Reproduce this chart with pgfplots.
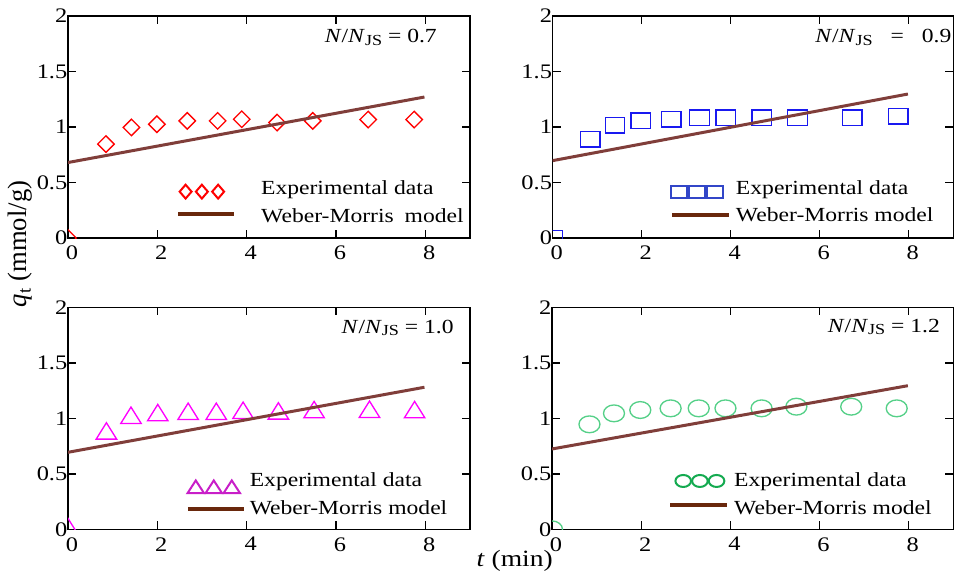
\documentclass[border=0pt]{standalone}
\usepackage{fontspec}
\setmainfont{Liberation Serif}[FakeStretch=1.18]
\newfontfamily\plainserif{Liberation Serif}
\usepackage{pgfplots}
\pgfplotsset{compat=1.18}

\definecolor{wmline}{RGB}{128,62,58}
\definecolor{wmleg}{RGB}{105,40,12}
\definecolor{plotred}{RGB}{255,0,0}
\definecolor{plotblue}{RGB}{25,25,240}
\definecolor{legblue}{RGB}{50,70,200}
\definecolor{plotmag}{RGB}{255,0,255}
\definecolor{legmag}{RGB}{200,30,200}
\definecolor{plotgreen}{RGB}{85,208,136}
\definecolor{leggreen}{RGB}{20,170,80}

\pgfplotsset{
  panel/.style={
    scale only axis,
    height=166.5pt,
    xmin=0, xmax=9, ymin=0, ymax=2,
    xtick={0,2,4,6,8}, ytick={0,0.5,1,1.5,2},
    tick align=inside,
    major tick length=6pt,
    axis line style={line width=1pt},
    every tick/.style={black, line width=1pt},
    clip marker paths=true,
    /pgf/number format/assume math mode=true,
    tick label style={font=\fontsize{15.5}{18}\selectfont},
    xticklabel style={xshift=3pt, yshift=-2.5pt},
    yticklabel style={xshift=3pt},
    legend cell align=left,
    legend style={draw=none, fill=none, inner sep=0pt, outer sep=0pt, anchor=north west,
      nodes={inner sep=0pt},
      font=\fontsize{15}{18}\selectfont},
  },
  wm/.style={no marks, color=wmline, line width=2.25pt, forget plot},
  legline/.style n args={2}{legend image code/.code={\draw[##1] (0pt,#2) -- (#1,#2);}},
  legmarks/.style n args={4}{legend image code/.code={\draw[##1] plot coordinates {(#1,#4) (#2,#4) (#3,#4)};}},
}

\newcommand{\NNJS}{\textit{N}/\textit{N}\raisebox{-0.3ex}{\fontsize{11.5}{12}\selectfont JS}}

\begin{document}
\begin{tikzpicture}
\useasboundingbox (0pt,0pt) rectangle (715.5pt,-430.5pt);

% ---------------- top left ----------------
\begin{axis}[panel, at={(51pt,-178.5pt)}, anchor=south west, width=301.5pt,
  legend style={at={(0.269,0.2596)}, row sep=7.4pt,
    /tikz/every odd column/.append style={column sep=18.75pt}}]
\addplot[only marks, mark=diamond, color=plotred, mark size=6.2pt,
  mark options={xscale=1.333, line width=1pt}, forget plot] coordinates {
  (0,0) (0.85,0.846) (1.42,0.996) (1.99,1.025) (2.67,1.055) (3.35,1.055)
  (3.89,1.07) (4.68,1.04) (5.48,1.055) (6.72,1.067) (7.75,1.067)};
\addplot[wm] coordinates {(0,0.68) (7.98,1.27)};
\addlegendimage{only marks, mark=diamond, color=plotred, mark size=5.2pt,
  mark options={xscale=1.15, line width=1.5pt}, legmarks={5.6pt}{17.8pt}{30pt}{-2.5pt}}
\addlegendentry{Experimental data}
\addlegendimage{color=wmleg, line width=3pt, legline={42pt}{1.5pt}}
\addlegendentry{Weber-Morris\hspace{0.25em} model}
\node[anchor=east, inner sep=0pt, font=\fontsize{15}{18}\selectfont] at (rel axis cs:0.918,0.905) {\NNJS{} = 0.7};
\end{axis}

% ---------------- top right ----------------
\begin{axis}[panel, at={(414.5pt,-178.5pt)}, anchor=south west, width=300.5pt,
  legend style={at={(0.2928,0.2596)}, row sep=7.2pt,
    /tikz/every odd column/.append style={column sep=3.75pt}}]
\addplot[only marks, mark=square, color=plotblue, mark size=5.8pt,
  mark options={xscale=1.27, line width=1pt}, forget plot] coordinates {
  (0,0) (0.84,0.89) (1.40,1.015) (1.98,1.057) (2.66,1.069) (3.30,1.084)
  (3.89,1.084) (4.70,1.084) (5.50,1.084) (6.73,1.084) (7.76,1.096)};
\addplot[wm] coordinates {(0,0.697) (7.98,1.297)};
\addlegendimage{only marks, mark=square, color=legblue, mark size=4.5pt,
  mark options={xscale=1.4, line width=1.5pt}, legmarks={5.25pt}{18.75pt}{32.25pt}{-2.5pt}}
\addlegendentry{Experimental data}
\addlegendimage{color=wmleg, line width=3pt, legline={42.75pt}{0pt}}
\addlegendentry{Weber-Morris model}
\node[anchor=east, inner sep=0pt, font=\fontsize{15}{18}\selectfont] at (rel axis cs:0.996,0.905) {\NNJS\hspace{0.9em}=\hspace{0.9em}0.9};
\end{axis}

% ---------------- bottom left ----------------
\begin{axis}[panel, at={(51pt,-397pt)}, anchor=south west, width=301.5pt,
  legend style={at={(0.293,0.2536)}, row sep=5.5pt,
    /tikz/every odd column/.append style={column sep=3pt}}]
\addplot[only marks, mark=triangle, color=plotmag, mark size=8.2pt,
  mark options={xscale=1.08, line width=1pt}, forget plot] coordinates {
  (0,0) (0.86,0.862) (1.41,1.003) (2.01,1.027) (2.69,1.039) (3.32,1.039)
  (3.92,1.048) (4.71,1.042) (5.51,1.054) (6.75,1.057) (7.76,1.054)};
\addplot[wm] coordinates {(0,0.694) (7.98,1.28)};
\addlegendimage{only marks, mark=triangle, color=legmag, mark size=6.4pt,
  mark options={xscale=1.12, line width=1.5pt}, legmarks={6pt}{19.5pt}{33pt}{-6pt}}
\addlegendentry{Experimental data}
\addlegendimage{color=wmleg, line width=3pt, legline={42pt}{0pt}}
\addlegendentry{Weber-Morris model}
\node[anchor=east, inner sep=0pt, font=\fontsize{15}{18}\selectfont] at (rel axis cs:0.960,0.907) {\NNJS{} = 1.0};
\end{axis}

% ---------------- bottom right ----------------
\begin{axis}[panel, at={(414pt,-397pt)}, anchor=south west, width=301pt,
  legend style={at={(0.2896,0.2536)}, row sep=8.5pt,
    /tikz/every odd column/.append style={column sep=3.75pt}}]
\addplot[only marks, mark=o, color=plotgreen, mark size=6.3pt,
  mark options={xscale=1.25, line width=1pt}, forget plot] coordinates {
  (0,0) (0.84,0.946) (1.39,1.045) (1.98,1.075) (2.66,1.09) (3.29,1.09)
  (3.89,1.09) (4.70,1.09) (5.48,1.105) (6.71,1.105) (7.73,1.09)};
\addplot[wm] coordinates {(0,0.724) (7.98,1.294)};
\addlegendimage{only marks, mark=o, color=leggreen, mark size=4.5pt,
  mark options={xscale=1.3, line width=1.5pt}, legmarks={9.75pt}{22.25pt}{34.75pt}{0pt}}
\addlegendentry{Experimental data}
\addlegendimage{color=wmleg, line width=3pt, legline={42.75pt}{2.25pt}}
\addlegendentry{Weber-Morris model}
\node[anchor=east, inner sep=0pt, font=\fontsize{15}{18}\selectfont] at (rel axis cs:0.967,0.912) {\NNJS{} = 1.2};
\end{axis}

% axis labels
\node[rotate=90, inner sep=0pt, font=\plainserif\fontsize{20}{24}\selectfont] at (15pt,-183pt) {\textit{q}\textsubscript{t} (mmol/g)};
\node[inner sep=0pt, font=\fontsize{17.5}{21}\selectfont] at (386pt,-420.5pt) {\textit{t} (min)};
\end{tikzpicture}
\end{document}
